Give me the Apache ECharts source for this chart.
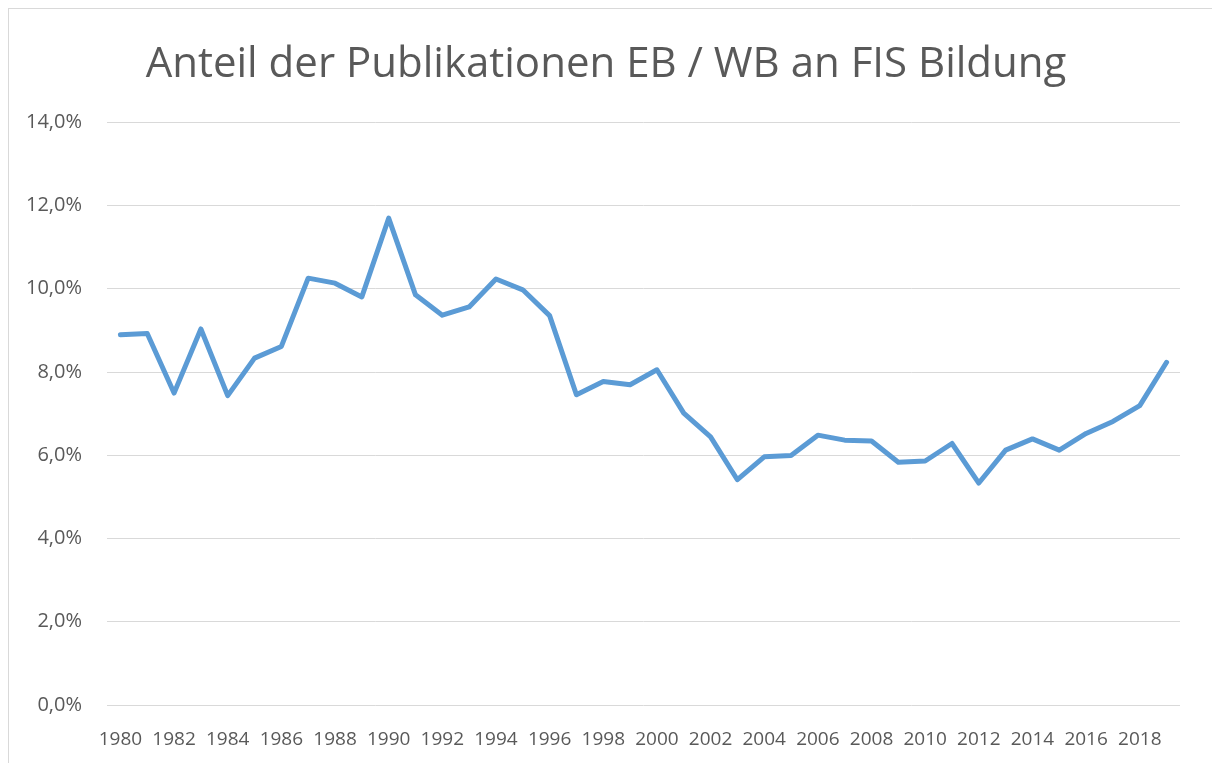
<!DOCTYPE html>
<html>
<head>
<meta charset="utf-8">
<title>Anteil der Publikationen EB / WB an FIS Bildung</title>
<script src="https://cdn.jsdelivr.net/npm/echarts@6/dist/echarts.min.js"></script>
<style>
  html, body { margin: 0; padding: 0; background: #fff; }
  #frame {
    position: absolute; left: 8px; top: 8px;
    width: 1220px; height: 770px;
    border: 1px solid #d9d9d9; box-sizing: border-box;
  }
  #chart { position: absolute; left: 0; top: 0; width: 1212px; height: 763px; }
</style>
</head>
<body>
<div id="frame"></div>
<div id="chart"></div>
<script>
// Jahre
const years = []
for (let y = 1980; y <= 2019; y++) years.push(String(y))
// Anteil in Prozent
const shares = [
  8.89, 8.92, 7.49, 9.03, 7.43, 8.33, 8.61, 10.25, 10.13, 9.80,
  11.69, 9.85, 9.36, 9.56, 10.23, 9.97, 9.35, 7.45, 7.77, 7.69,
  8.05, 7.01, 6.44, 5.41, 5.96, 5.99, 6.48, 6.36, 6.34, 5.83,
  5.86, 6.28, 5.33, 6.12, 6.39, 6.12, 6.52, 6.81, 7.19, 8.23
]
const titleText = 'Anteil der Publikationen EB / WB an FIS Bildung'
const fontFam = '"Open Sans", "Noto Sans", sans-serif'

const chart = echarts.init(document.getElementById('chart'))
chart.setOption({
  backgroundColor: 'transparent',
  animation: false,
  title: {
    text: titleText,
    left: 'center',
    top: 39,
    textStyle: { color: '#595959', fontSize: 42, fontWeight: 'normal', fontFamily: fontFam }
  },
  grid: { left: 107, right: 32, top: 122, bottom: 58, containLabel: false },
  xAxis: {
    type: 'category',
    data: years,
    boundaryGap: true,
    axisLine: { show: false },
    axisTick: { show: false },
    axisLabel: {
      interval: 1,
      margin: 25,
      color: '#595959',
      fontSize: 19,
      fontFamily: fontFam
    }
  },
  yAxis: {
    type: 'value',
    min: 0,
    max: 14,
    interval: 2,
    axisLine: { show: false },
    axisTick: { show: false },
    splitLine: { lineStyle: { color: '#d9d9d9', width: 1 } },
    axisLabel: {
      margin: 25,
      color: '#595959',
      fontSize: 20,
      fontFamily: fontFam,
      formatter: v => v.toFixed(1).replace('.', ',') + '%'
    }
  },
  series: [{
    type: 'line',
    data: shares,
    showSymbol: false,
    symbol: 'none',
    lineStyle: { color: '#5b9bd5', width: 5, cap: 'round', join: 'round' },
    itemStyle: { color: '#5b9bd5' }
  }]
})
</script>
</body>
</html>
